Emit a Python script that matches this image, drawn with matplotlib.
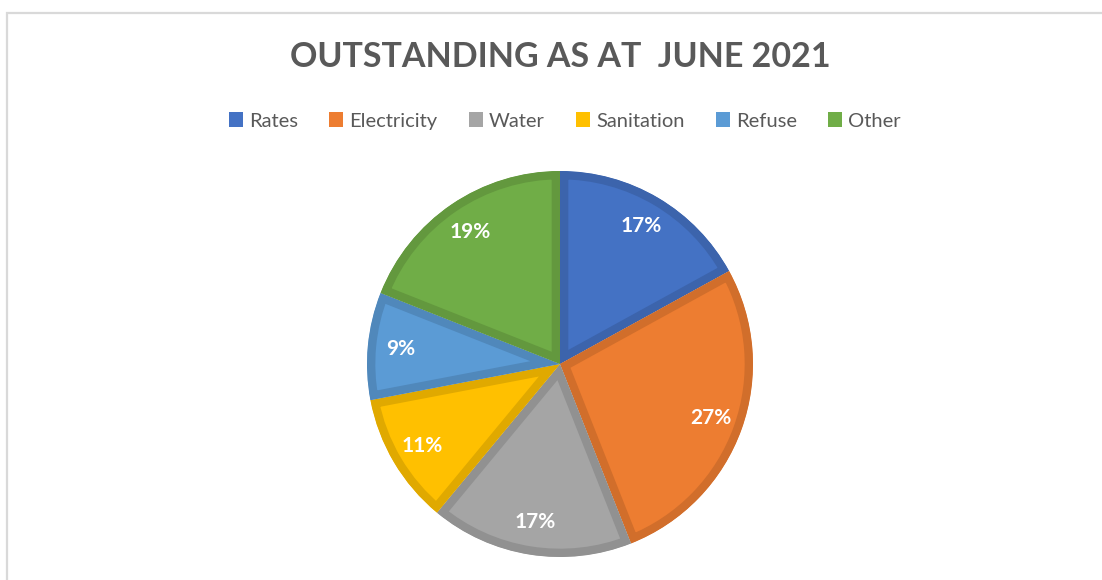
import matplotlib.pyplot as plt
from matplotlib.colors import to_rgb
from matplotlib.patches import Rectangle, Patch

categories = ["Rates", "Electricity", "Water", "Sanitation", "Refuse", "Other"]
shares = [17, 27, 17, 11, 9, 19]
colors = ["#4472C4", "#ED7D31", "#A5A5A5", "#FFC000", "#5B9BD5", "#70AD47"]

plt.rcParams["font.family"] = ["Lato", "DejaVu Sans"]


def darker(c, f=0.88):
    r, g, b = to_rgb(c)
    return (r * f, g * f, b * f)


fig = plt.figure(figsize=(11.02, 5.80), dpi=100)

# light grey chart frame
fig.patches.append(Rectangle((7 / 1102, -0.05), 1.2, 1 - 13 / 580 + 0.05,
                             transform=fig.transFigure, fill=False,
                             edgecolor="#d9d9d9", linewidth=1.6))

cx, cy, r = 560, 364, 193
ax = fig.add_axes([(cx - r) / 1102, (580 - cy - r) / 580, 2 * r / 1102, 2 * r / 580])

wedges, texts, autotexts = ax.pie(
    shares, colors=colors, startangle=90, counterclock=False,
    autopct="%1.0f%%", pctdistance=0.83,
    textprops=dict(color="white", fontsize=15, fontweight="bold"),
)
# inner darker outline on each slice
for w, c in zip(wedges, colors):
    w.set_edgecolor(darker(c))
    w.set_linewidth(12)
    w.set_clip_path(w)
    w.set_clip_on(True)
ax.set_xlim(-1, 1)
ax.set_ylim(-1, 1)

fig.text(560 / 1102, 1 - 57 / 580, "OUTSTANDING AS AT  JUNE 2021",
         ha="center", va="center", fontsize=24.5, fontweight="bold", color="#595959")

handles = [Patch(facecolor=c, edgecolor="none") for c in colors]
fig.legend(handles, categories, loc="center", bbox_to_anchor=(565 / 1102, 1 - 121 / 580),
           ncol=6, frameon=False, fontsize=14.5, labelcolor="#595959",
           handlelength=0.7, handleheight=0.7, handletextpad=0.3, columnspacing=1.55)

fig.savefig("out.png", dpi=100, facecolor="white")
